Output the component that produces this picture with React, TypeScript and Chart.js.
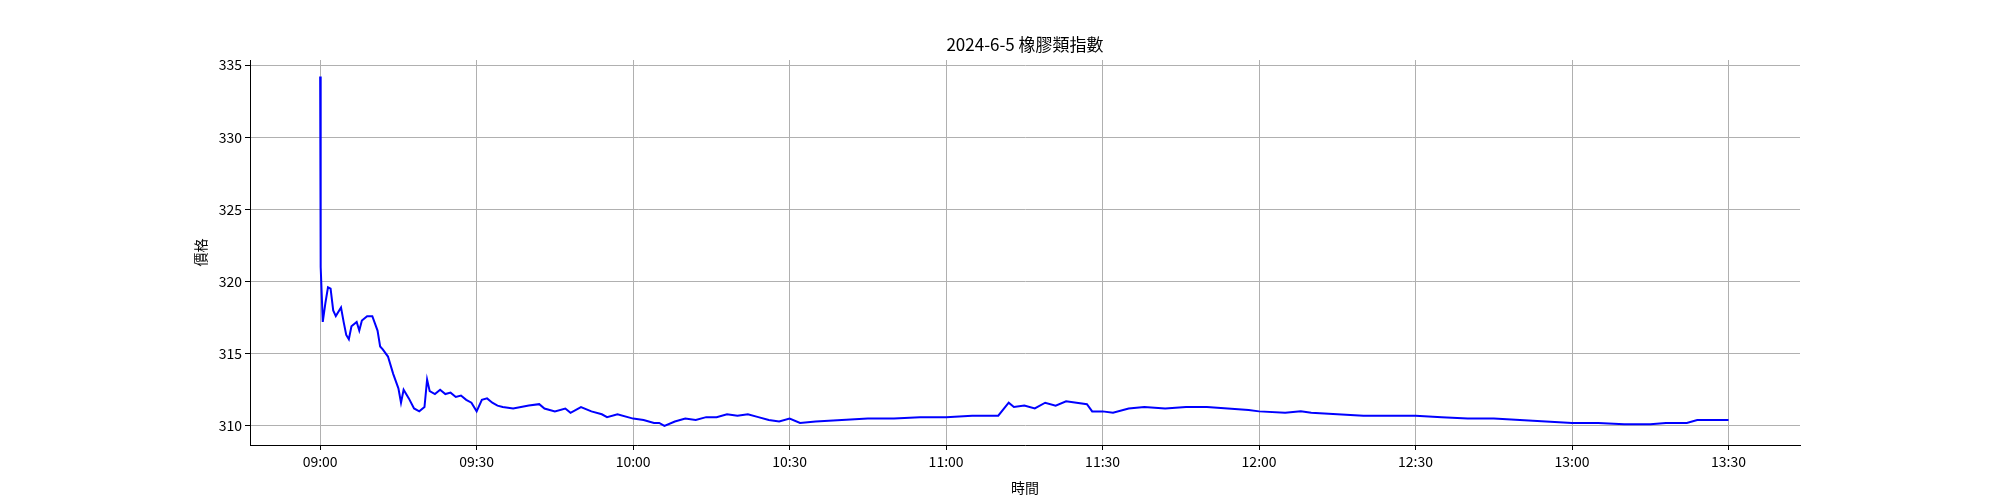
import React, { useEffect, useRef } from 'react'
import Chart from 'chart.js/auto'

// minutes after 09:00
const minutes = [
  0, 0.1, 0.5, 1, 1.5, 2, 2.5, 3, 4, 4.5, 5, 5.5, 6, 7, 7.5, 8, 9, 10, 11, 11.5, 12, 13, 14, 15, 15.5, 16,
  17, 18, 19, 20, 20.5, 21, 22, 23, 24, 25, 26, 27, 28, 29, 30, 31, 32, 33, 34, 35, 37, 40, 42, 43, 45,
  47, 48, 50, 52, 54, 55, 57, 60, 62, 64, 65, 66, 68, 70, 72, 74, 76, 78, 80, 82, 84, 86, 88, 90, 92, 95,
  100, 105, 110, 115, 120, 125, 130, 132, 133, 135, 137, 139, 141, 143, 145, 147, 148, 150, 152, 155, 158,
  162, 166, 170, 174, 178, 180, 185, 188, 190, 195, 200, 205, 210, 215, 220, 225, 230, 235, 240, 245, 250,
  255, 258, 262, 264, 270,
]
const prices = [
  334.2, 321, 317.2, 318.5, 319.6, 319.5, 318, 317.6, 318.2, 317.2, 316.3, 316, 316.9, 317.2, 316.6, 317.3,
  317.6, 317.6, 316.6, 315.5, 315.3, 314.8, 313.6, 312.6, 311.6, 312.5, 311.9, 311.2, 311.0, 311.3, 313.2,
  312.4, 312.2, 312.5, 312.2, 312.3, 312.0, 312.1, 311.8, 311.6, 311.0, 311.8, 311.9, 311.6, 311.4, 311.3,
  311.2, 311.4, 311.5, 311.2, 311.0, 311.2, 310.9, 311.3, 311.0, 310.8, 310.6, 310.8, 310.5, 310.4, 310.2,
  310.2, 310.0, 310.3, 310.5, 310.4, 310.6, 310.6, 310.8, 310.7, 310.8, 310.6, 310.4, 310.3, 310.5, 310.2,
  310.3, 310.4, 310.5, 310.5, 310.6, 310.6, 310.7, 310.7, 311.6, 311.3, 311.4, 311.2, 311.6, 311.4, 311.7,
  311.6, 311.5, 311.0, 311.0, 310.9, 311.2, 311.3, 311.2, 311.3, 311.3, 311.2, 311.1, 311.0, 310.9, 311.0,
  310.9, 310.8, 310.7, 310.7, 310.7, 310.6, 310.5, 310.5, 310.4, 310.3, 310.2, 310.2, 310.1, 310.1, 310.2,
  310.2, 310.4, 310.4,
]
const xTicks = [0, 30, 60, 90, 120, 150, 180, 210, 240, 270]
const yTicks = [310, 315, 320, 325, 330, 335]

const FONT = '"Noto Sans CJK TC", "Noto Sans", sans-serif'

const fmtTime = (m: number) => {
  const h = 9 + Math.floor(m / 60)
  const mm = m % 60
  return `${String(h).padStart(2, '0')}:${String(mm).padStart(2, '0')}`
}

const App = () => {
  const chartRef = useRef<HTMLCanvasElement>(null)
  const chartInstance = useRef<Chart>()

  useEffect(() => {
    document.body.style.margin = '0'
    if (!chartRef.current) return
    const titlePlugin = {
      id: 'centerTitle',
      afterDraw(chart: Chart) {
        const { ctx, chartArea } = chart
        ctx.save()
        ctx.fillStyle = '#000'
        ctx.font = `17px ${FONT}`
        ctx.textAlign = 'center'
        ctx.textBaseline = 'middle'
        ctx.fillText('2024-6-5 橡膠類指數', (chartArea.left + chartArea.right) / 2, 45)
        ctx.restore()
      },
    }
    chartInstance.current = new Chart(chartRef.current, {
      type: 'line',
      data: {
        datasets: [
          {
            data: minutes.map((m, i) => ({ x: m, y: prices[i] })),
            borderColor: '#0000ff',
            borderWidth: 2,
            pointRadius: 0,
            tension: 0,
          },
        ],
      },
      options: {
        animation: false,
        responsive: false,
        layout: { padding: { top: 60, right: 200, bottom: 4, left: 192 } },
        plugins: { legend: { display: false }, tooltip: { enabled: false } },
        scales: {
          x: {
            type: 'linear',
            min: -13.45,
            max: 283.7,
            afterBuildTicks: (s: any) => {
              s.ticks = xTicks.map((v) => ({ value: v }))
            },
            afterFit: (s: any) => {
              s.height = 51
            },
            ticks: { callback: (v: any) => fmtTime(Number(v)), color: '#000', font: { family: FONT, size: 14 }, maxRotation: 0 },
            grid: { color: '#b0b0b0', tickColor: '#000', tickLength: 5 },
            border: { color: '#000' },
            title: { display: true, text: '時間', color: '#000', font: { family: FONT, size: 14 }, padding: 0 },
          },
          y: {
            min: 308.67,
            max: 335.35,
            afterBuildTicks: (s: any) => {
              s.ticks = yTicks.map((v) => ({ value: v }))
            },
            afterFit: (s: any) => {
              s.width = 58
            },
            ticks: { color: '#000', font: { family: FONT, size: 14 } },
            grid: { color: '#b0b0b0', tickColor: '#000', tickLength: 5 },
            border: { color: '#000' },
            title: { display: true, text: '價格', color: '#000', font: { family: FONT, size: 14 }, padding: 0 },
          },
        },
      },
      plugins: [titlePlugin],
    })
    return () => {
      if (chartInstance.current) chartInstance.current.destroy()
    }
  }, [])

  return <canvas ref={chartRef} width={2000} height={500} style={{ display: 'block' }} />
}

export default App
